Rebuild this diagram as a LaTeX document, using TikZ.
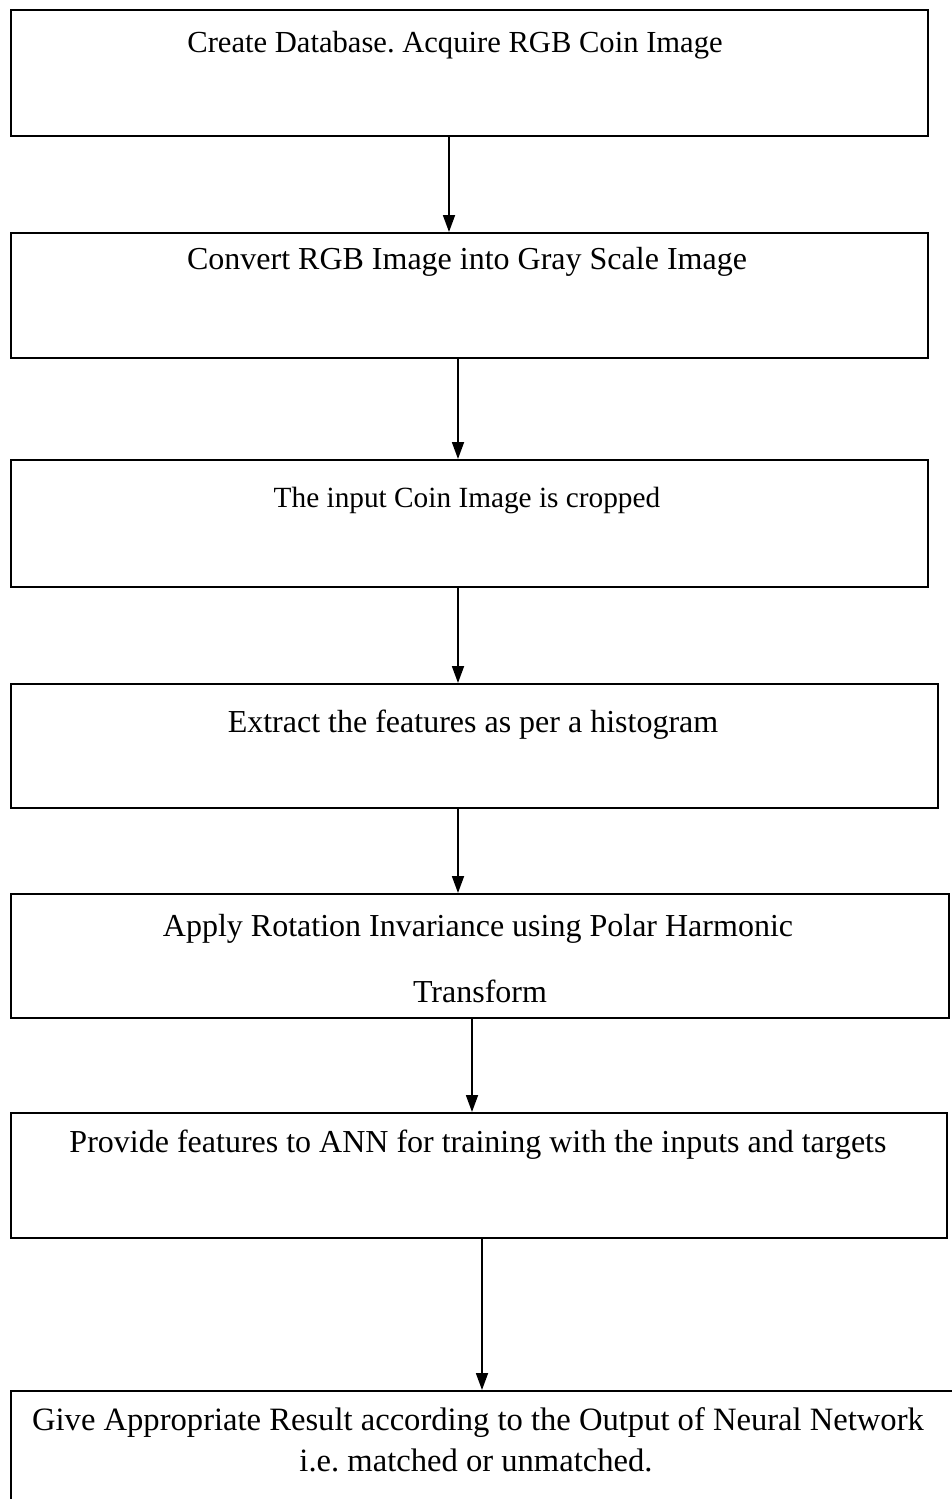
\documentclass[tikz,border=0pt]{standalone}
\usepackage{fontspec}
\setmainfont{Liberation Serif}
\usetikzlibrary{arrows.meta}
\frenchspacing
\begin{document}
\begin{tikzpicture}[x=1pt,y=-1pt,
  stepbox/.style={draw=black, line width=2pt, inner sep=0pt, anchor=north west},
  lbl/.style={anchor=base, inner sep=0pt, font=\fontsize{32pt}{41pt}\selectfont},
  lbltop/.style={anchor=base, inner sep=0pt, font=\fontsize{30.6pt}{41pt}\selectfont},
  lblsmall/.style={anchor=base, inner sep=0pt, font=\fontsize{29.3pt}{36pt}\selectfont},
  lblbig/.style={anchor=base, inner sep=0pt, font=\fontsize{32.6pt}{41pt}\selectfont},
  arr/.style={line width=1.8pt, -{Triangle[length=17pt,width=12pt]}}]
\useasboundingbox (0,0) rectangle (952,1499);
\clip (0,0) rectangle (952,1499);
% boxes
\node[stepbox, minimum width=917pt, minimum height=126pt] (b1) at (10,9) {};
\node[stepbox, minimum width=917pt, minimum height=125pt] (b2) at (10,232) {};
\node[stepbox, minimum width=917pt, minimum height=127pt] (b3) at (10,459) {};
\node[stepbox, minimum width=927pt, minimum height=124pt] (b4) at (10,683) {};
\node[stepbox, minimum width=938pt, minimum height=124pt] (b5) at (10,893) {};
\node[stepbox, minimum width=936pt, minimum height=125pt] (b6) at (10,1112) {};
\node[stepbox, minimum width=980pt, minimum height=160pt] (b7) at (10,1390) {};
% texts
\node[lbltop] (t1) at (455,52) {Create Database. Acquire RGB Coin Image};
\node[lbl] (t2) at (467,269) {Convert RGB Image into Gray Scale Image};
\node[lblsmall] (t3) at (467,507) {The input Coin Image is cropped};
\node[lbl] (t4) at (473,732) {Extract the features as per a histogram};
\node[lbl] (t5a) at (478,936) {Apply Rotation Invariance using Polar Harmonic};
\node[lbl] (t5b) at (480,1002) {Transform};
\node[lbl] (t6) at (478,1152) {Provide features to ANN for training with the inputs and targets};
\node[lblbig] (t7a) at (478,1430) {Give Appropriate Result according to the Output of Neural Network};
\node[lblbig] (t7b) at (476,1471) {i.e. matched or unmatched.};
% arrows
\coordinate (x1) at (449,0);
\coordinate (x2) at (458,0);
\coordinate (x3) at (458,0);
\coordinate (x4) at (458,0);
\coordinate (x5) at (472,0);
\coordinate (x6) at (482,0);
\draw[arr] (b1.south -| x1) -- (b2.north -| x1);
\draw[arr] (b2.south -| x2) -- (b3.north -| x2);
\draw[arr] (b3.south -| x3) -- (b4.north -| x3);
\draw[arr] (b4.south -| x4) -- (b5.north -| x4);
\draw[arr] (b5.south -| x5) -- (b6.north -| x5);
\draw[arr] (b6.south -| x6) -- (b7.north -| x6);
\end{tikzpicture}
\end{document}
